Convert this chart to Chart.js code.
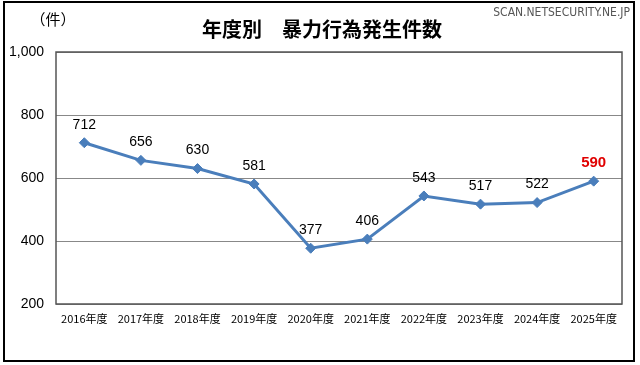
<!DOCTYPE html>
<html>
<head>
<meta charset="utf-8">
<script src="https://cdn.jsdelivr.net/npm/chart.js@4"></script>
<style>
  html, body { margin: 0; padding: 0; background: #fff; }
  #wrap { width: 640px; height: 365px; }
</style>
</head>
<body>
<div id="wrap"><canvas id="chart" width="640" height="365"></canvas></div>
<script>
// data
const years = ['2016年度', '2017年度', '2018年度', '2019年度', '2020年度',
  '2021年度', '2022年度', '2023年度', '2024年度', '2025年度'];
const counts = [712, 656, 630, 581, 377, 406, 543, 517, 522, 590];
const yTicks = [200, 400, 600, 800, 1000];

const titleText = '年度別　暴力行為発生件数';
const unitText = '（件）';
const siteText = 'SCAN.NETSECURITY.NE.JP';

const jpFont = '"Noto Sans CJK JP", "Noto Sans", sans-serif';

const decor = {
  id: 'decor',
  beforeDraw: (chart) => {
    const ctx = chart.ctx;
    ctx.save();
    ctx.fillStyle = '#fff';
    ctx.fillRect(0, 0, chart.width, chart.height);
    ctx.restore();
  },
  afterDraw: (chart) => {
    const ctx = chart.ctx;
    const a = chart.chartArea;
    ctx.save();
    // outer frame
    ctx.strokeStyle = '#000';
    ctx.lineWidth = 2;
    ctx.strokeRect(4, 2, 630, 359);
    // plot frame
    ctx.strokeStyle = '#555';
    ctx.lineWidth = 1.5;
    ctx.strokeRect(a.left, a.top, a.right - a.left, a.bottom - a.top);
    // texts
    ctx.fillStyle = '#000';
    ctx.textAlign = 'center';
    ctx.textBaseline = 'middle';
    ctx.font = 'bold 20px ' + jpFont;
    ctx.fillText(titleText, 322, 29);
    ctx.font = '15px ' + jpFont;
    ctx.fillText(unitText, 53, 19);
    ctx.fillStyle = '#555';
    ctx.font = '12px "DejaVu Sans Condensed", "DejaVu Sans", sans-serif';
    ctx.textAlign = 'right';
    ctx.fillText(siteText, 630, 13);
    // value labels
    const meta = chart.getDatasetMeta(0);
    meta.data.forEach((pt, i) => {
      const last = i === counts.length - 1;
      ctx.fillStyle = last ? '#e00000' : '#000';
      ctx.font = (last ? 'bold 15px ' : '14px ') + '"Liberation Sans", Arial, sans-serif';
      ctx.textAlign = 'center';
      ctx.fillText(String(counts[i]), pt.x, pt.y - 18);
    });
    ctx.restore();
  }
};

new Chart(document.getElementById('chart').getContext('2d'), {
  type: 'line',
  data: {
    labels: years,
    datasets: [{
      data: counts,
      borderColor: '#4a7ebb',
      backgroundColor: '#4a7ebb',
      borderWidth: 3,
      pointStyle: 'rectRot',
      pointRadius: 5,
      pointBorderWidth: 1,
      tension: 0,
    }]
  },
  plugins: [decor],
  options: {
    responsive: false,
    animation: false,
    layout: { padding: { top: 52, right: 18, left: 0, bottom: 0 } },
    plugins: {
      legend: { display: false },
      tooltip: { enabled: false },
    },
    scales: {
      x: {
        offset: true,
        grid: { display: false, drawTicks: false },
        border: { display: false },
        ticks: {
          color: '#000',
          font: { size: 11, family: jpFont },
          padding: 8,
          maxRotation: 0,
          autoSkip: false,
        },
        afterFit: (scale) => { scale.height = 61; },
      },
      y: {
        min: 200,
        max: 1000,
        afterBuildTicks: (scale) => { scale.ticks = yTicks.map(v => ({ value: v })); },
        grid: { color: '#888', lineWidth: 1, drawTicks: false },
        border: { display: false },
        ticks: {
          color: '#000',
          font: { size: 14, family: '"Liberation Sans", Arial, sans-serif' },
          padding: 12,
          callback: (v) => v.toLocaleString('en-US'),
        },
        afterFit: (scale) => { scale.width = 56; },
      }
    }
  }
});
</script>
</body>
</html>
